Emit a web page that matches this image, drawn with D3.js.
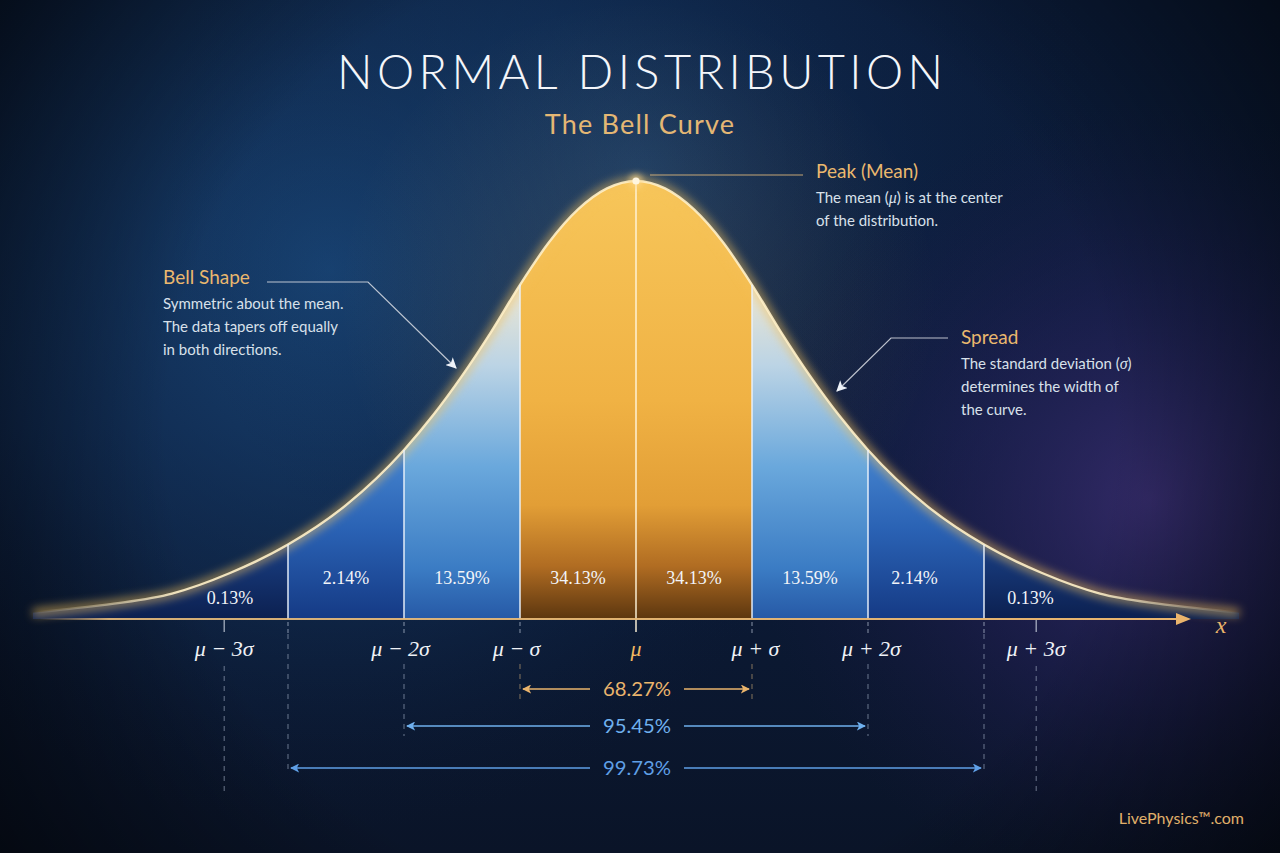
<!DOCTYPE html>
<html>
<head>
<meta charset="utf-8">
<style>
  html, body { margin: 0; padding: 0; background: #0a1530; }
  svg { display: block; }
</style>
<script src="https://cdn.jsdelivr.net/npm/d3@7"></script>
</head>
<body>
<svg id="chart" width="1280" height="853"></svg>
<script>
// curve heights (z in sigma units, h relative to the peak)
const curveZ = [-5.2, -5, -4.5, -4, -3.5, -3, -2.5, -2, -1.75, -1.5, -1.25, -1, -0.75, -0.5, -0.25, 0,
                0.25, 0.5, 0.75, 1, 1.25, 1.5, 1.75, 2, 2.5, 3, 3.5, 4, 4.5, 5, 5.2];
const curveH = [0.014, 0.02, 0.035, 0.058, 0.105, 0.17, 0.26, 0.386, 0.465, 0.555, 0.655, 0.763, 0.86, 0.935, 0.983, 1,
                0.983, 0.935, 0.86, 0.763, 0.655, 0.555, 0.465, 0.386, 0.26, 0.17, 0.105, 0.058, 0.035, 0.02, 0.014];

const bandEdges = [-5.2, -3, -2, -1, 0, 1, 2, 3, 5.2];
const bandLabels = ['0.13%', '2.14%', '13.59%', '34.13%', '34.13%', '13.59%', '2.14%', '0.13%'];
const bandLabelZ = [-3.5, -2.5, -1.5, -0.5, 0.5, 1.5, 2.4, 3.4];

const sigmaZ = [-3, -2, -1, 0, 1, 2, 3];
const tickLabels = ['μ − 3σ', 'μ − 2σ', 'μ − σ', 'μ', 'μ + σ', 'μ + 2σ', 'μ + 3σ'];
const tickLabelZ = [-3.55, -2.03, -1.03, 0, 1.03, 2.03, 3.45];

const rangeK = [1, 2, 3];
const rangeLabels = ['68.27%', '95.45%', '99.73%'];

const svg = d3.select('#chart');
const W = 1280, H = 853;
const defs = svg.append('defs');

const x = d3.scaleLinear().domain([-3, 3]).range([288, 984]);
const y = d3.scaleLinear().domain([0, 1]).range([619, 181]);
const hAt = z => curveH[curveZ.indexOf(z)];

// ---- gradients / filters
function radial(id, cx, cy, r, stops) {
  const g = defs.append('radialGradient').attr('id', id)
      .attr('gradientUnits', 'userSpaceOnUse')
      .attr('cx', cx).attr('cy', cy).attr('r', r);
  stops.forEach(s => g.append('stop').attr('offset', s[0]).attr('stop-color', s[1]).attr('stop-opacity', s[2]));
}
function linear(id, x1, y1, x2, y2, stops) {
  const g = defs.append('linearGradient').attr('id', id)
      .attr('gradientUnits', 'userSpaceOnUse')
      .attr('x1', x1).attr('y1', y1).attr('x2', x2).attr('y2', y2);
  stops.forEach(s => g.append('stop').attr('offset', s[0]).attr('stop-color', s[1]).attr('stop-opacity', s[2] == null ? 1 : s[2]));
}

linear('bgBase', 0, 0, 0, H, [[0, '#0b1c3a'], [0.5, '#0c1d3c'], [1, '#0a1428']]);
radial('bgBlue', 330, 270, 560, [[0, '#1d5289', 0.75], [0.6, '#17406f', 0.3], [1, '#0c1d3c', 0]]);
radial('bgTop', 640, 170, 480, [[0, '#1a4a7e', 0.5], [1, '#0c1d3c', 0]]);
radial('bgPurple', 1150, 500, 400, [[0, '#43307a', 0.7], [0.5, '#2c2160', 0.4], [1, '#1c1740', 0]]);
radial('bgVignette', 640, 430, 860, [[0.55, '#000000', 0], [1, '#000000', 0.75]]);
radial('bgGlow', 638, 300, 300, [[0, '#f0b050', 0.12], [1, '#f0b050', 0]]);

linear('gGold', 0, 181, 0, 619, [[0, '#f7c65a'], [0.5, '#f0b244'], [0.74, '#e29e36'], [0.88, '#b06c22'], [1, '#5c360f']]);
linear('gB1', 0, 280, 0, 619, [[0, '#efe8d2'], [0.25, '#bcd4e5'], [0.55, '#6aa8dc'], [0.85, '#3b7cc4'], [1, '#2659a6']]);
linear('gB2', 0, 440, 0, 619, [[0, '#4a8ad3'], [0.5, '#2a62b4'], [1, '#153a85']]);
linear('gTail', 0, 530, 0, 619, [[0, '#1c458e'], [1, '#0c2050']]);
linear('gStroke', x(-5.2), 0, x(5.2), 0, [[0, '#fff0c8', 0], [0.12, '#fff0c8', 0.9], [0.88, '#fff0c8', 0.9], [1, '#fff0c8', 0]]);
linear('gAxis', 40, 0, 1190, 0, [[0, '#e9bd7d', 0], [0.06, '#e9bd7d', 0.9], [1, '#e9b56e', 1]]);

const glow = defs.append('filter').attr('id', 'glow')
    .attr('x', '-10%').attr('y', '-10%').attr('width', '120%').attr('height', '120%');
glow.append('feGaussianBlur').attr('stdDeviation', 5);
const soft = defs.append('filter').attr('id', 'soft')
    .attr('x', '-50%').attr('y', '-50%').attr('width', '200%').attr('height', '200%');
soft.append('feGaussianBlur').attr('stdDeviation', 3);

// ---- background
svg.append('rect').attr('width', W).attr('height', H).attr('fill', 'url(#bgBase)');
['bgBlue', 'bgTop', 'bgPurple', 'bgGlow', 'bgVignette'].forEach(id =>
  svg.append('rect').attr('width', W).attr('height', H).attr('fill', `url(#${id})`));

// ---- curve fill bands
const pts = curveZ.map((z, i) => ({ z: z, h: curveH[i] }));
const area = d3.area().x(d => x(d.z)).y0(y(0)).y1(d => y(d.h)).curve(d3.curveMonotoneX);
const line = d3.line().x(d => x(d.z)).y(d => y(d.h)).curve(d3.curveMonotoneX);

defs.append('clipPath').attr('id', 'bellClip').append('path').attr('d', area(pts));

const bandFill = ['gTail', 'gB2', 'gB1', 'gGold', 'gGold', 'gB1', 'gB2', 'gTail'];
svg.append('g').attr('clip-path', 'url(#bellClip)')
  .selectAll('rect')
  .data(d3.range(bandEdges.length - 1))
  .join('rect')
    .attr('x', i => x(bandEdges[i]))
    .attr('width', i => x(bandEdges[i + 1]) - x(bandEdges[i]))
    .attr('y', y(1) - 5)
    .attr('height', y(0) - y(1) + 5)
    .attr('fill', i => `url(#${bandFill[i]})`);

// curve glow + stroke
svg.append('path').attr('d', line(pts)).attr('fill', 'none')
    .attr('stroke', '#f5c15a').attr('stroke-width', 8).attr('opacity', 0.6)
    .attr('filter', 'url(#glow)');
svg.append('path').attr('d', line(pts)).attr('fill', 'none')
    .attr('stroke', 'url(#gStroke)').attr('stroke-width', 2.4);

// sigma boundary lines
svg.append('g').selectAll('line')
  .data(sigmaZ)
  .join('line')
    .attr('x1', d => x(d)).attr('x2', d => x(d))
    .attr('y1', d => d === 0 ? y(0) + 13 : y(0))
    .attr('y2', d => y(hAt(d)))
    .attr('stroke', d => d === 0 ? '#fff4da' : '#eaf2fb')
    .attr('stroke-opacity', 0.9)
    .attr('stroke-width', 1.6);

// peak dot
svg.append('circle').attr('cx', x(0)).attr('cy', y(1)).attr('r', 7)
    .attr('fill', '#ffd98a').attr('opacity', 0.7).attr('filter', 'url(#soft)');
svg.append('circle').attr('cx', x(0)).attr('cy', y(1)).attr('r', 3.6).attr('fill', '#fff6e0');

// band percentages
svg.append('g').selectAll('text')
  .data(bandLabels)
  .join('text')
    .attr('x', (d, i) => x(bandLabelZ[i]))
    .attr('y', (d, i) => (i === 0 || i === 7) ? 604 : 584)
    .attr('text-anchor', 'middle')
    .attr('fill', '#f2f4f8')
    .style('font', '18px "Liberation Serif", "DejaVu Serif", serif')
    .text(d => d);

// ---- x axis
svg.append('line').attr('x1', 40).attr('x2', 1183).attr('y1', y(0)).attr('y2', y(0))
    .attr('stroke', '#f0c27f').attr('stroke-width', 5).attr('opacity', 0.35).attr('filter', 'url(#soft)');
svg.append('line').attr('x1', 40).attr('x2', 1183).attr('y1', y(0)).attr('y2', y(0))
    .attr('stroke', 'url(#gAxis)').attr('stroke-width', 2.2);
svg.append('path').attr('d', `M1176,${y(0) - 6} L1191,${y(0)} L1176,${y(0) + 6} Z`).attr('fill', '#eab46c');
svg.append('text').attr('x', 1221).attr('y', 633).attr('text-anchor', 'middle')
    .attr('fill', '#eab46c')
    .style('font', 'italic 24px "Liberation Serif", "DejaVu Serif", serif').text('x');

// short ticks under the axis
const g = svg.append('g');
sigmaZ.filter(d => d !== 0).forEach(d => {
  g.append('line').attr('x1', x(d)).attr('x2', x(d)).attr('y1', y(0) + 3).attr('y2', y(0) + 14)
    .attr('stroke', '#c9d3e3').attr('stroke-opacity', 0.55).attr('stroke-width', 1.2)
    .attr('stroke-dasharray', '4,3');
});
[tickLabelZ[0], tickLabelZ[6]].forEach(d => {
  g.append('line').attr('x1', x(d)).attr('x2', x(d)).attr('y1', y(0) + 1).attr('y2', y(0) + 13)
    .attr('stroke', '#d6dde8').attr('stroke-opacity', 0.75).attr('stroke-width', 1.3);
});

// tick labels
svg.append('g').selectAll('text')
  .data(tickLabels)
  .join('text')
    .attr('x', (d, i) => x(tickLabelZ[i]))
    .attr('y', 656)
    .attr('text-anchor', 'middle')
    .attr('fill', d => d === 'μ' ? '#f0b860' : '#eef1f6')
    .style('font', 'italic 22px "Liberation Serif", "DejaVu Serif", serif')
    .text(d => d);

// dashed guides below the labels
const guides = [
  { z: tickLabelZ[0], y1: 666, y2: 792 }, { z: tickLabelZ[6], y1: 666, y2: 792 },
  { z: -3, y1: 634, y2: 772 }, { z: 3, y1: 634, y2: 772 },
  { z: -2, y1: 664, y2: 736 }, { z: 2, y1: 664, y2: 736 },
  { z: -1, y1: 664, y2: 700 }, { z: 1, y1: 664, y2: 700 }
];
svg.append('g').selectAll('line')
  .data(guides)
  .join('line')
    .attr('x1', d => x(d.z)).attr('x2', d => x(d.z))
    .attr('y1', d => d.y1).attr('y2', d => d.y2)
    .attr('stroke', d => Math.abs(d.z) === 1 ? '#d7b27a' : '#a9b6cc')
    .attr('stroke-opacity', 0.55)
    .attr('stroke-width', 1.1)
    .attr('stroke-dasharray', '5,5');

// ---- range arrows
const rangeColor = ['#eab46c', '#6fb0ee', '#5f9fe6'];
const rangeY = [689, 726, 768];
rangeColor.forEach((c, i) => {
  defs.append('marker').attr('id', 'arr' + i)
      .attr('viewBox', '0 0 10 10').attr('refX', 9).attr('refY', 5)
      .attr('markerWidth', 9).attr('markerHeight', 9).attr('markerUnits', 'userSpaceOnUse')
      .attr('orient', 'auto')
    .append('path').attr('d', 'M0,0 L10,5 L0,10 L2.5,5 Z').attr('fill', c);
});
const rg = svg.append('g').selectAll('g')
  .data(rangeK)
  .join('g');
rg.each(function (k, i) {
  const sel = d3.select(this);
  const cx = x(0);
  sel.append('line').attr('x1', cx - 46).attr('x2', x(-k) + 3).attr('y1', rangeY[i]).attr('y2', rangeY[i])
      .attr('stroke', rangeColor[i]).attr('stroke-width', 1.6).attr('marker-end', `url(#arr${i})`);
  sel.append('line').attr('x1', cx + 48).attr('x2', x(k) - 3).attr('y1', rangeY[i]).attr('y2', rangeY[i])
      .attr('stroke', rangeColor[i]).attr('stroke-width', 1.6).attr('marker-end', `url(#arr${i})`);
  sel.append('text').attr('x', cx + 1).attr('y', rangeY[i] + 7).attr('text-anchor', 'middle')
      .attr('fill', rangeColor[i])
      .attr('textLength', 68).attr('lengthAdjust', 'spacingAndGlyphs')
      .style('font', '20px Lato, "Open Sans", sans-serif')
      .text(rangeLabels[i]);
});

// ---- titles
svg.append('text').attr('x', 337).attr('y', 89)
    .attr('textLength', 606).attr('lengthAdjust', 'spacing')
    .attr('fill', '#f4f6fa')
    .style('font', '300 47px Lato, "Open Sans", sans-serif')
    .text('NORMAL DISTRIBUTION');
svg.append('text').attr('x', 640).attr('y', 134).attr('text-anchor', 'middle')
    .attr('fill', '#e4b774')
    .style('font', '400 27px Lato, "Open Sans", sans-serif')
    .style('letter-spacing', '1.2px')
    .text('The Bell Curve');

// ---- annotations
function note(xx, yy, title, lines) {
  const gg = svg.append('g');
  gg.append('text').attr('x', xx).attr('y', yy).attr('fill', '#eab86e')
    .style('font', '400 19px Lato, "Open Sans", sans-serif').text(title);
  lines.forEach((t, i) => {
    const tx = gg.append('text').attr('x', xx).attr('y', yy + 25 + i * 23)
      .attr('fill', '#d8e0ea').style('font', '400 15px Lato, "Open Sans", sans-serif');
    // greek letters in the notes are set in italic serif
    t.split(/([μσ])/).forEach(part => {
      if (!part) return;
      const ts = tx.append('tspan').text(part);
      if (part === 'μ' || part === 'σ') ts.style('font', 'italic 16px "Liberation Serif", serif');
    });
  });
}
note(163, 284, 'Bell Shape', ['Symmetric about the mean.', 'The data tapers off equally', 'in both directions.']);
note(816, 178, 'Peak (Mean)', ['The mean (μ) is at the center', 'of the distribution.']);
note(961, 344, 'Spread', ['The standard deviation (σ)', 'determines the width of', 'the curve.']);

defs.append('marker').attr('id', 'noteArr')
    .attr('viewBox', '0 0 10 10').attr('refX', 9).attr('refY', 5)
    .attr('markerWidth', 11).attr('markerHeight', 11).attr('markerUnits', 'userSpaceOnUse')
    .attr('orient', 'auto')
  .append('path').attr('d', 'M0,0 L10,5 L0,10 L2.5,5 Z').attr('fill', '#eef2f8');

svg.append('path').attr('d', 'M267,282 L368,282 L456,368')
    .attr('fill', 'none').attr('stroke', '#d9dde4').attr('stroke-width', 1.2).attr('stroke-opacity', 0.85)
    .attr('marker-end', 'url(#noteArr)');
svg.append('path').attr('d', 'M948,338 L891,338 L837,391')
    .attr('fill', 'none').attr('stroke', '#d9dde4').attr('stroke-width', 1.2).attr('stroke-opacity', 0.85)
    .attr('marker-end', 'url(#noteArr)');
svg.append('line').attr('x1', 650).attr('x2', 803).attr('y1', 175).attr('y2', 175)
    .attr('stroke', '#d8b27a').attr('stroke-width', 1.2).attr('stroke-opacity', 0.9);

// watermark
svg.append('text').attr('x', 1244).attr('y', 824).attr('text-anchor', 'end')
    .attr('fill', '#e0b06a')
    .style('font', '400 16px Lato, "Open Sans", sans-serif')
    .text('LivePhysics™.com');
</script>
</body>
</html>
